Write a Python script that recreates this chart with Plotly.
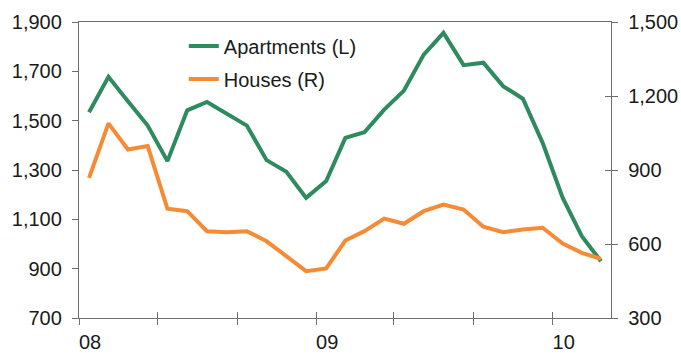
import plotly.graph_objects as go

# Monthly observations, Jan 2008 - Mar 2010
months = [
    "2008-01", "2008-02", "2008-03", "2008-04", "2008-05", "2008-06",
    "2008-07", "2008-08", "2008-09", "2008-10", "2008-11", "2008-12",
    "2009-01", "2009-02", "2009-03", "2009-04", "2009-05", "2009-06",
    "2009-07", "2009-08", "2009-09", "2009-10", "2009-11", "2009-12",
    "2010-01", "2010-02", "2010-03",
]

# Apartments, left axis
apartments = [
    1534, 1678, 1579, 1480, 1336, 1542, 1576, 1528, 1480, 1340, 1293, 1187,
    1255, 1430, 1453, 1545, 1622, 1768, 1856, 1725, 1735, 1640, 1589, 1410,
    1187, 1032, 930,
]

# Houses, right axis
houses = [
    868, 1089, 983, 997, 743, 733, 652, 648, 652, 611, 551, 490,
    501, 614, 652, 703, 682, 733, 760, 740, 670, 648, 659, 666,
    602, 564, 540,
]

x_ticks = ["2008-01-01", "2008-05-01", "2008-09-01", "2009-01-01",
           "2009-05-01", "2009-09-01", "2010-01-01"]
x_tick_text = ["08", "", "", "09", "", "", "10"]
x_range = ["2008-01-01", "2010-04-01"]

left_ticks = [700, 900, 1100, 1300, 1500, 1700, 1900]
right_ticks = [300, 600, 900, 1200, 1500]

GREEN = "#2E8B5F"
ORANGE = "#F68B35"
AXIS = "#6E6E6E"
TEXT = "#1A1A1A"
FONT = "Arial, Liberation Sans, sans-serif"

fig = go.Figure()
fig.add_trace(go.Scatter(
    x=months, y=apartments, name="Apartments (L)", mode="lines",
    xperiod="M1", xperiodalignment="middle", legendgroup="a",
    line=dict(color=GREEN, width=4), yaxis="y",
))
fig.add_trace(go.Scatter(
    x=months, y=houses, name="Houses (R)", mode="lines",
    xperiod="M1", xperiodalignment="middle", legendgroup="b",
    line=dict(color=ORANGE, width=4), yaxis="y2",
))

tick_font = dict(family=FONT, size=20, color=TEXT)

fig.update_layout(
    width=681, height=353,
    margin=dict(l=79, r=70, t=22, b=35),
    paper_bgcolor="white", plot_bgcolor="white",
    font=dict(family=FONT, size=20, color=TEXT),
    showlegend=True,
    legend=dict(
        x=0.197, y=0.985, xanchor="left", yanchor="top",
        bgcolor="rgba(0,0,0,0)", font=dict(family=FONT, size=20, color=TEXT),
        tracegroupgap=4, itemwidth=30,
    ),
    xaxis=dict(
        type="date", range=x_range, tickvals=x_ticks, ticktext=x_tick_text,
        ticks="outside", ticklen=6, tickcolor=AXIS, tickwidth=1.3,
        showline=True, linecolor=AXIS, linewidth=1.3, mirror=True,
        showgrid=False, zeroline=False, tickfont=tick_font,
        ticklabelshift=11, ticklabelstandoff=0, automargin=False,
    ),
    xaxis2=dict(
        type="date", range=x_range, tickvals=x_ticks, overlaying="x",
        anchor="y", side="bottom", automargin=False,
        ticks="inside", ticklen=6, tickcolor=AXIS, tickwidth=1.3,
        showticklabels=False, showline=False, showgrid=False, zeroline=False,
    ),
    yaxis=dict(
        range=[700, 1900], tickvals=left_ticks, tickformat=",d",
        ticks="outside", ticklen=6, tickcolor=AXIS, tickwidth=1.3,
        showline=True, linecolor=AXIS, linewidth=1.3, automargin=False,
        showgrid=False, zeroline=False, tickfont=tick_font,
        ticklabelstandoff=6,
    ),
    yaxis2=dict(
        range=[300, 1500], tickvals=right_ticks, tickformat=",d",
        overlaying="y", side="right", anchor="x", automargin=False,
        ticks="outside", ticklen=6, tickcolor=AXIS, tickwidth=1.3,
        showline=True, linecolor=AXIS, linewidth=1.3,
        showgrid=False, zeroline=False, tickfont=tick_font,
        ticklabelstandoff=6,
    ),
    yaxis3=dict(
        range=[300, 1500], tickvals=right_ticks,
        overlaying="y", side="right", anchor="x", automargin=False,
        ticks="inside", ticklen=6, tickcolor=AXIS, tickwidth=1.3,
        showticklabels=False, showline=False, showgrid=False, zeroline=False,
    ),
)

# invisible trace so the inside-tick axes are drawn
fig.add_trace(go.Scatter(x=[x_range[0]], y=[300], xaxis="x2", yaxis="y3",
                         mode="markers", marker=dict(opacity=0),
                         showlegend=False, hoverinfo="skip"))

fig.write_html("out.html")
